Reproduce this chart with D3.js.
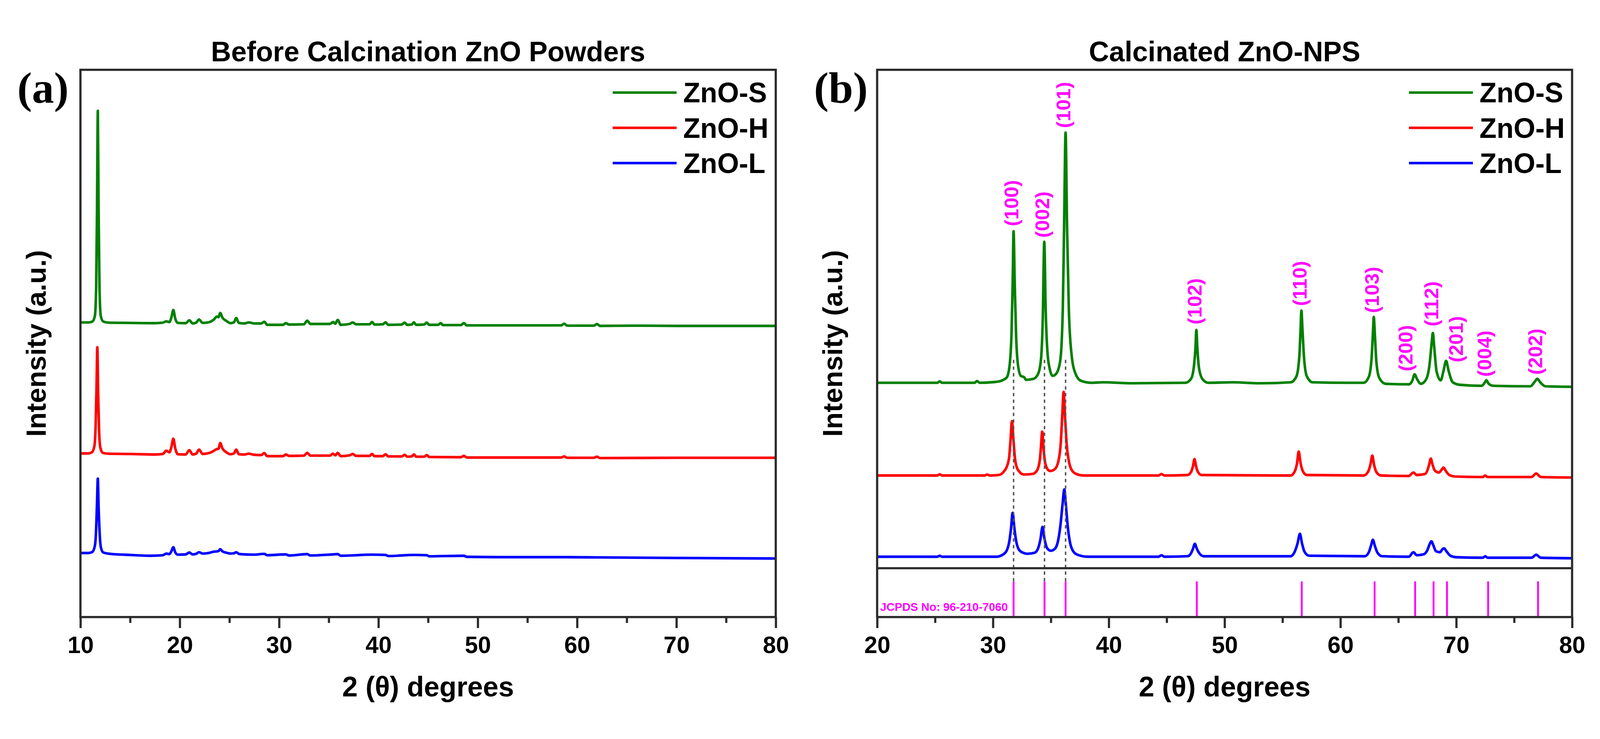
<!DOCTYPE html>
<html>
<head>
<meta charset="utf-8">
<script src="https://cdn.jsdelivr.net/npm/d3@7"></script>
<style>
  html, body { margin: 0; padding: 0; width: 100%; height: 100%; overflow: hidden; background: #fff; }
  #chart { display: block; width: 100vw; height: 100vh; }
</style>
</head>
<body>
<svg id="chart" viewBox="0 0 4356 1892" preserveAspectRatio="xMidYMid meet"></svg>
<script>
// ---- data (2θ in degrees, intensity in stacked a.u.) ----
const seriesNames = ["ZnO-S", "ZnO-H", "ZnO-L"];
const seriesColors = ["#008000", "#ff0000", "#0000ff"];

const xTicksA = [10, 20, 30, 40, 50, 60, 70, 80];
const xMinorA = [15, 25, 35, 45, 55, 65, 75];
const xTicksB = [20, 30, 40, 50, 60, 70, 80];
const xMinorB = [25, 35, 45, 55, 65, 75];

// (a) before calcination
const beforeS = [
  [10.0, 53.83], [10.8, 53.83], [11.2, 54.0], [11.45, 55.0], [11.58, 60.0], [11.67, 75.0], [11.75, 92.5],
  [11.83, 74.0], [11.92, 60.0], [12.05, 55.0], [12.3, 54.0], [12.8, 53.8], [15.0, 53.75], [17.5, 53.7],
  [18.3, 53.8], [18.64, 54.03], [18.95, 53.9], [19.15, 54.7], [19.35, 56.11], [19.55, 54.5], [19.8, 53.75],
  [20.6, 53.7], [20.96, 54.23], [21.3, 53.65], [21.65, 53.8], [21.94, 54.36], [22.3, 53.75], [23.0, 53.9],
  [23.45, 54.4], [23.73, 54.9], [23.9, 54.8], [24.07, 55.57], [24.3, 54.7], [24.7, 54.1], [25.1, 53.7],
  [25.45, 53.85], [25.68, 54.63], [25.95, 53.75], [26.5, 53.65], [26.94, 53.83], [27.5, 53.65], [28.2, 53.65],
  [28.51, 53.96], [28.8, 53.4], [30.4, 53.4], [30.67, 53.7], [31.0, 53.45], [32.5, 53.5], [32.83, 54.16],
  [33.15, 53.56], [35.1, 53.56], [35.43, 53.9], [35.65, 53.6], [35.9, 54.3], [36.2, 53.4], [37.1, 53.56],
  [37.41, 53.83], [37.75, 53.5], [39.1, 53.5], [39.36, 53.9], [39.6, 53.45], [40.45, 53.5], [40.71, 53.85],
  [41.0, 53.4], [42.35, 53.45], [42.63, 53.8], [42.9, 53.4], [43.35, 53.45], [43.57, 53.85], [43.8, 53.4],
  [44.6, 53.45], [44.87, 53.8], [45.1, 53.4], [46.0, 53.4], [46.27, 53.7], [46.5, 53.35], [48.3, 53.35],
  [48.6, 53.7], [48.9, 53.3], [52.0, 53.3], [55.0, 53.3], [58.4, 53.3], [58.7, 53.6], [59.0, 53.25],
  [61.7, 53.25], [62.0, 53.55], [62.3, 53.2], [66.0, 53.25], [70.0, 53.2], [75.0, 53.2], [80.0, 53.2]
];
const beforeH = [
  [10.0, 29.9], [10.8, 29.9], [11.15, 30.1], [11.4, 31.2], [11.53, 35.0], [11.62, 42.0], [11.70, 49.3],
  [11.78, 41.0], [11.87, 34.5], [12.0, 31.0], [12.25, 30.0], [12.8, 29.85], [15.0, 29.8], [17.5, 29.7],
  [18.3, 29.8], [18.64, 30.4], [18.95, 30.1], [19.15, 31.0], [19.35, 32.6], [19.55, 30.8], [19.8, 29.75],
  [20.6, 29.7], [20.96, 30.5], [21.3, 29.7], [21.65, 29.85], [21.94, 30.6], [22.3, 29.8], [23.0, 30.0],
  [23.45, 30.4], [23.73, 30.7], [23.9, 30.75], [24.07, 31.8], [24.3, 30.8], [24.7, 30.1], [25.1, 29.75],
  [25.45, 29.9], [25.68, 30.6], [25.95, 29.75], [26.5, 29.7], [26.94, 29.85], [27.5, 29.65], [28.2, 29.6],
  [28.51, 29.95], [28.8, 29.4], [30.4, 29.4], [30.67, 29.7], [31.0, 29.45], [32.5, 29.5], [32.83, 30.0],
  [33.15, 29.5], [35.1, 29.5], [35.43, 29.85], [35.65, 29.55], [35.9, 30.0], [36.2, 29.4], [37.1, 29.55],
  [37.41, 29.8], [37.75, 29.45], [39.1, 29.45], [39.36, 29.8], [39.6, 29.4], [40.45, 29.4], [40.71, 29.75],
  [41.0, 29.35], [42.35, 29.35], [42.63, 29.65], [42.9, 29.3], [43.35, 29.35], [43.57, 29.7], [43.8, 29.3],
  [44.6, 29.3], [44.87, 29.6], [45.1, 29.25], [48.3, 29.2], [48.6, 29.45], [48.9, 29.15], [55.0, 29.15],
  [58.4, 29.15], [58.7, 29.35], [59.0, 29.1], [61.7, 29.1], [62.0, 29.3], [62.3, 29.05], [70.0, 29.1], [80.0, 29.1]
];
const beforeL = [
  [10.0, 11.7], [10.8, 11.7], [11.2, 11.9], [11.45, 13.0], [11.58, 16.0], [11.67, 21.0], [11.75, 25.3],
  [11.83, 20.0], [11.93, 15.5], [12.05, 12.8], [12.3, 11.8], [13.0, 11.55], [15.0, 11.35], [17.0, 11.2],
  [18.3, 11.3], [18.64, 11.6], [18.95, 11.5], [19.15, 12.0], [19.35, 12.75], [19.55, 11.8], [19.8, 11.4],
  [20.6, 11.45], [20.96, 11.8], [21.3, 11.45], [21.65, 11.55], [21.94, 11.85], [22.3, 11.6], [23.0, 11.75],
  [23.45, 11.95], [23.73, 12.0], [23.9, 12.05], [24.07, 12.4], [24.3, 12.0], [24.7, 11.75], [25.1, 11.6],
  [25.45, 11.65], [25.68, 11.85], [25.95, 11.55], [26.5, 11.45], [27.5, 11.4], [28.51, 11.55], [28.8, 11.3],
  [30.67, 11.45], [31.0, 11.25], [32.83, 11.5], [33.15, 11.25], [35.43, 11.45], [35.9, 11.5], [36.2, 11.2],
  [39.36, 11.4], [40.71, 11.35], [41.0, 11.15], [43.57, 11.35], [44.87, 11.3], [45.1, 11.1], [48.6, 11.2],
  [48.9, 11.0], [52.0, 10.95], [58.7, 10.95], [62.0, 10.9], [70.0, 10.8], [80.0, 10.7]
];

// (b) calcinated
const afterS = [
  [20.0, 37.2], [23.0, 37.2], [25.2, 37.2], [25.4, 37.5], [25.6, 37.2], [28.4, 37.2], [28.63, 37.55],
  [28.85, 37.2], [30.3, 37.4], [30.9, 37.8], [31.2, 38.3], [31.45, 41.0], [31.6, 47.0], [31.7, 57.0],
  [31.78, 67.6], [31.88, 57.0], [32.0, 46.5], [32.15, 41.0], [32.4, 38.6], [32.7, 38.3], [32.85, 37.8],
  [33.5, 38.0], [33.9, 39.0], [34.15, 42.0], [34.3, 50.0], [34.43, 65.5], [34.55, 52.0], [34.7, 43.5],
  [34.9, 40.0], [35.15, 38.6], [35.45, 39.0], [35.8, 41.5], [36.03, 52.0], [36.15, 70.0], [36.27, 87.4],
  [36.4, 68.0], [36.55, 52.0], [36.78, 43.0], [37.1, 39.2], [37.6, 37.6], [38.5, 37.2], [39.5, 37.3],
  [42.0, 37.1], [46.6, 37.2], [47.1, 38.0], [47.35, 40.5], [47.48, 44.0], [47.56, 47.8], [47.65, 44.0],
  [47.8, 40.0], [48.1, 37.9], [48.6, 37.2], [50.7, 37.3], [53.0, 37.1], [55.7, 37.3], [56.2, 38.5],
  [56.45, 42.5], [56.56, 48.0], [56.63, 51.7], [56.72, 48.0], [56.85, 42.5], [57.1, 38.5], [57.6, 37.3],
  [60.6, 37.2], [62.0, 37.2], [62.45, 38.4], [62.7, 42.5], [62.81, 47.5], [62.88, 50.4], [62.97, 47.0],
  [63.1, 41.5], [63.35, 38.2], [63.9, 37.0], [65.9, 36.9], [66.2, 37.6], [66.4, 38.9], [66.6, 38.0],
  [66.95, 37.0], [67.4, 37.9], [67.7, 41.0], [67.88, 45.3], [67.98, 47.2], [68.1, 44.3], [68.3, 39.5],
  [68.66, 37.7], [68.9, 39.6], [69.12, 41.6], [69.35, 39.5], [69.7, 37.3], [70.3, 36.8], [72.2, 36.6],
  [72.45, 37.2], [72.6, 37.7], [72.8, 37.0], [73.2, 36.6], [76.4, 36.5], [76.8, 37.5], [77.0, 38.0],
  [77.25, 37.3], [77.7, 36.5], [80.0, 36.4]
];
const afterH = [
  [20.0, 18.6], [25.2, 18.6], [25.4, 18.85], [25.6, 18.6], [29.3, 18.6], [29.5, 18.8], [29.7, 18.6],
  [30.5, 18.7], [30.94, 19.4], [31.2, 20.4], [31.4, 22.3], [31.52, 25.8], [31.64, 29.5], [31.76, 26.0],
  [31.9, 22.0], [32.05, 20.3], [32.3, 19.3], [32.65, 18.8], [33.4, 18.9], [33.8, 19.6], [34.05, 21.8],
  [34.15, 24.5], [34.25, 27.4], [34.37, 24.0], [34.5, 21.2], [34.7, 19.9], [34.94, 19.5], [35.35, 19.9],
  [35.65, 21.5], [35.85, 25.0], [35.98, 30.5], [36.1, 35.4], [36.22, 30.5], [36.36, 25.0], [36.55, 21.5],
  [36.8, 19.7], [37.2, 18.9], [37.8, 18.6], [44.3, 18.6], [44.55, 18.9], [44.8, 18.6], [46.8, 18.7],
  [47.1, 19.3], [47.27, 20.5], [47.4, 21.9], [47.53, 20.5], [47.7, 19.3], [48.0, 18.7], [55.7, 18.6],
  [56.05, 19.4], [56.25, 21.0], [56.4, 23.4], [56.55, 21.2], [56.75, 19.5], [57.1, 18.7], [62.0, 18.6],
  [62.4, 19.4], [62.6, 20.9], [62.75, 22.6], [62.9, 20.8], [63.1, 19.3], [63.5, 18.6], [65.9, 18.5],
  [66.3, 19.2], [66.6, 18.7], [67.3, 18.9], [67.55, 19.9], [67.68, 21.0], [67.8, 22.0], [67.95, 20.8],
  [68.15, 19.6], [68.5, 19.2], [68.75, 19.8], [68.9, 20.2], [69.1, 19.5], [69.4, 18.7], [69.9, 18.4],
  [72.3, 18.3], [72.5, 18.6], [72.7, 18.3], [76.5, 18.3], [76.9, 19.0], [77.3, 18.3], [80.0, 18.2]
];
const afterL = [
  [20.0, 2.3], [25.2, 2.3], [25.4, 2.5], [25.6, 2.3], [30.3, 2.3], [30.9, 2.8], [31.2, 3.6], [31.42, 5.5],
  [31.56, 8.0], [31.7, 11.1], [31.84, 8.2], [32.0, 5.5], [32.2, 3.9], [32.5, 3.2], [33.0, 2.9], [33.6, 3.1],
  [33.9, 4.0], [34.1, 5.8], [34.28, 8.3], [34.44, 6.0], [34.62, 4.3], [34.8, 3.7], [35.0, 3.5], [35.35, 3.9],
  [35.62, 5.5], [35.82, 8.5], [36.0, 12.6], [36.16, 15.8], [36.3, 12.5], [36.46, 8.3], [36.65, 5.2],
  [36.9, 3.5], [37.3, 2.7], [38.2, 2.3], [44.3, 2.3], [44.55, 2.6], [44.8, 2.3], [46.8, 2.4], [47.1, 3.0],
  [47.27, 3.9], [47.43, 4.9], [47.6, 3.9], [47.85, 2.9], [48.2, 2.4], [55.7, 2.4], [56.05, 3.3], [56.3, 5.0],
  [56.5, 6.9], [56.68, 5.0], [56.9, 3.3], [57.3, 2.5], [62.1, 2.4], [62.45, 3.2], [62.65, 4.6], [62.8, 5.7],
  [62.97, 4.5], [63.2, 3.1], [63.6, 2.4], [65.9, 2.3], [66.3, 3.2], [66.6, 2.6], [67.2, 2.8], [67.5, 3.6],
  [67.7, 4.8], [67.85, 5.4], [68.02, 4.6], [68.25, 3.4], [68.6, 3.2], [68.8, 3.8], [68.95, 4.0], [69.15, 3.4],
  [69.5, 2.5], [70.0, 2.2], [72.3, 2.1], [72.5, 2.4], [72.7, 2.1], [76.5, 2.1], [76.9, 2.7], [77.3, 2.1], [80.0, 2.0]
];

// Miller index labels above the ZnO-S peaks (angle of label centre, level of label foot)
const hklLabels = ["(100)", "(002)", "(101)", "(102)", "(110)", "(103)", "(200)", "(112)", "(201)", "(004)", "(202)"];
const hklAngles = [31.74, 34.42, 36.24, 47.56, 56.63, 62.88, 65.77, 67.99, 70.14, 72.58, 76.99];
const hklLevels = [68.6, 66.3, 88.3, 48.9, 52.6, 51.2, 39.5, 48.5, 41.3, 38.4, 38.8];

// JCPDS 96-210-7060 reference lines
const jcpdsAngles = [31.78, 34.45, 36.27, 47.6, 56.66, 62.95, 66.45, 68.04, 69.2, 72.75, 77.06];
const jcpdsIntensity = [0.73, 0.73, 0.73, 0.73, 0.73, 0.73, 0.73, 0.73, 0.73, 0.73, 0.73];
const guideAngles = [31.78, 34.45, 36.27];
const guideTop = 41.8;

// ---- layout ----
const svg = d3.select("#chart");
const frameTop = 130, frameBottom = 1620;
const frameColor = "#2b2b2b";
const sans = "'Liberation Sans', Arial, sans-serif";

svg.append("rect").attr("width", 4356).attr("height", 1892).attr("fill", "#fff");

function drawPanel(p) {
  const g = svg.append("g");
  const x = d3.scaleLinear().domain(p.xDomain).range([p.left, p.right]);
  const y = d3.scaleLinear().domain([0, 100]).range([p.plotBottom, frameTop]);
  const line = d3.line().x(d => x(d[0])).y(d => y(d[1])).curve(d3.curveMonotoneX);

  p.series.slice().reverse().forEach((s, i) => {
    g.append("path")
      .datum(s)
      .attr("d", line)
      .attr("fill", "none")
      .attr("stroke", seriesColors[p.series.length - 1 - i])
      .attr("stroke-width", 7)
      .attr("stroke-linejoin", "round");
  });

  if (p.extra) p.extra(g, x, y);

  g.append("rect")
    .attr("x", p.left).attr("y", frameTop)
    .attr("width", p.right - p.left).attr("height", frameBottom - frameTop)
    .attr("fill", "none").attr("stroke", frameColor).attr("stroke-width", 6);

  g.append("g")
    .attr("transform", `translate(0,${frameBottom})`)
    .call(d3.axisBottom(x).tickValues(p.xMinor).tickSize(16).tickFormat(""))
    .call(a => a.select(".domain").remove())
    .call(a => a.selectAll(".tick line").attr("stroke", frameColor).attr("stroke-width", 6));

  g.append("g")
    .attr("transform", `translate(0,${frameBottom})`)
    .call(d3.axisBottom(x).tickValues(p.xTicks).tickSize(30).tickFormat(d3.format("d")))
    .call(a => a.select(".domain").remove())
    .call(a => a.selectAll(".tick line").attr("stroke", frameColor).attr("stroke-width", 6))
    .call(a => a.selectAll(".tick text")
      .attr("y", 98).attr("dy", null)
      .attr("fill", "#000")
      .attr("font-family", sans).attr("font-weight", "bold").attr("font-size", 64));

  const cx = (p.left + p.right) / 2;
  g.append("text")
    .attr("x", cx).attr("y", 107)
    .attr("text-anchor", "middle")
    .attr("font-family", sans).attr("font-weight", "bold").attr("font-size", 76)
    .text(p.title);

  g.append("text")
    .attr("x", cx).attr("y", 1836)
    .attr("text-anchor", "middle")
    .attr("font-family", sans).attr("font-weight", "bold").attr("font-size", 76)
    .text("2 (θ) degrees");

  g.append("text")
    .attr("transform", `translate(${p.left - 95},${(frameTop + frameBottom) / 2}) rotate(-90)`)
    .attr("text-anchor", "middle")
    .attr("font-family", sans).attr("font-weight", "bold").attr("font-size", 75)
    .text("Intensity (a.u.)");

  g.append("text")
    .attr("x", p.left - 172).attr("y", 220)
    .attr("font-family", "'Liberation Serif', 'Times New Roman', serif")
    .attr("font-weight", "bold").attr("font-size", 120)
    .text(p.letter);

  const legend = g.append("g")
    .selectAll("g")
    .data(seriesNames)
    .join("g")
    .attr("transform", (d, i) => `translate(${p.right - 444},${192 + i * 96})`);
  legend.append("line")
    .attr("x2", 174)
    .attr("stroke", (d, i) => seriesColors[i])
    .attr("stroke-width", 7);
  legend.append("text")
    .attr("x", 192).attr("y", 27)
    .attr("font-family", sans).attr("font-weight", "bold").attr("font-size", 76)
    .text(d => d);
}

drawPanel({
  left: 219, right: 2112, plotBottom: frameBottom,
  xDomain: [10, 80], xTicks: xTicksA, xMinor: xMinorA,
  series: [beforeS, beforeH, beforeL],
  title: "Before Calcination ZnO Powders", letter: "(a)"
});

drawPanel({
  left: 2388, right: 4280, plotBottom: 1487,
  xDomain: [20, 80], xTicks: xTicksB, xMinor: xMinorB,
  series: [afterS, afterH, afterL],
  title: "Calcinated ZnO-NPS", letter: "(b)",
  extra: (g, x, y) => {
    const yRef = d3.scaleLinear().domain([0, 1]).range([frameBottom, 1487]);

    g.selectAll(".guide")
      .data(guideAngles)
      .join("line")
      .attr("class", "guide")
      .attr("x1", d => x(d)).attr("x2", d => x(d))
      .attr("y1", y(guideTop)).attr("y2", yRef(0.73))
      .attr("stroke", "#555").attr("stroke-width", 4)
      .attr("stroke-dasharray", "9 9");

    g.append("line")
      .attr("x1", x(20)).attr("x2", x(80))
      .attr("y1", yRef(1)).attr("y2", yRef(1))
      .attr("stroke", frameColor).attr("stroke-width", 6);

    g.selectAll(".stick")
      .data(jcpdsAngles)
      .join("line")
      .attr("class", "stick")
      .attr("x1", d => x(d)).attr("x2", d => x(d))
      .attr("y1", yRef(0)).attr("y2", (d, i) => yRef(jcpdsIntensity[i]))
      .attr("stroke", "#ff00ff").attr("stroke-width", 5);

    g.append("text")
      .attr("x", x(20) + 8).attr("y", 1603)
      .attr("fill", "#ff00ff")
      .attr("font-family", sans).attr("font-weight", "bold").attr("font-size", 31)
      .text("JCPDS No: 96-210-7060");

    g.selectAll(".hkl")
      .data(hklLabels)
      .join("text")
      .attr("class", "hkl")
      .attr("transform", (d, i) => `translate(${x(hklAngles[i])},${y(hklLevels[i])}) rotate(-90)`)
      .attr("dy", "0.26em")
      .attr("fill", "#ff00ff")
      .attr("font-family", sans).attr("font-weight", "bold").attr("font-size", 54)
      .text(d => d);
  }
});
</script>
</body>
</html>
